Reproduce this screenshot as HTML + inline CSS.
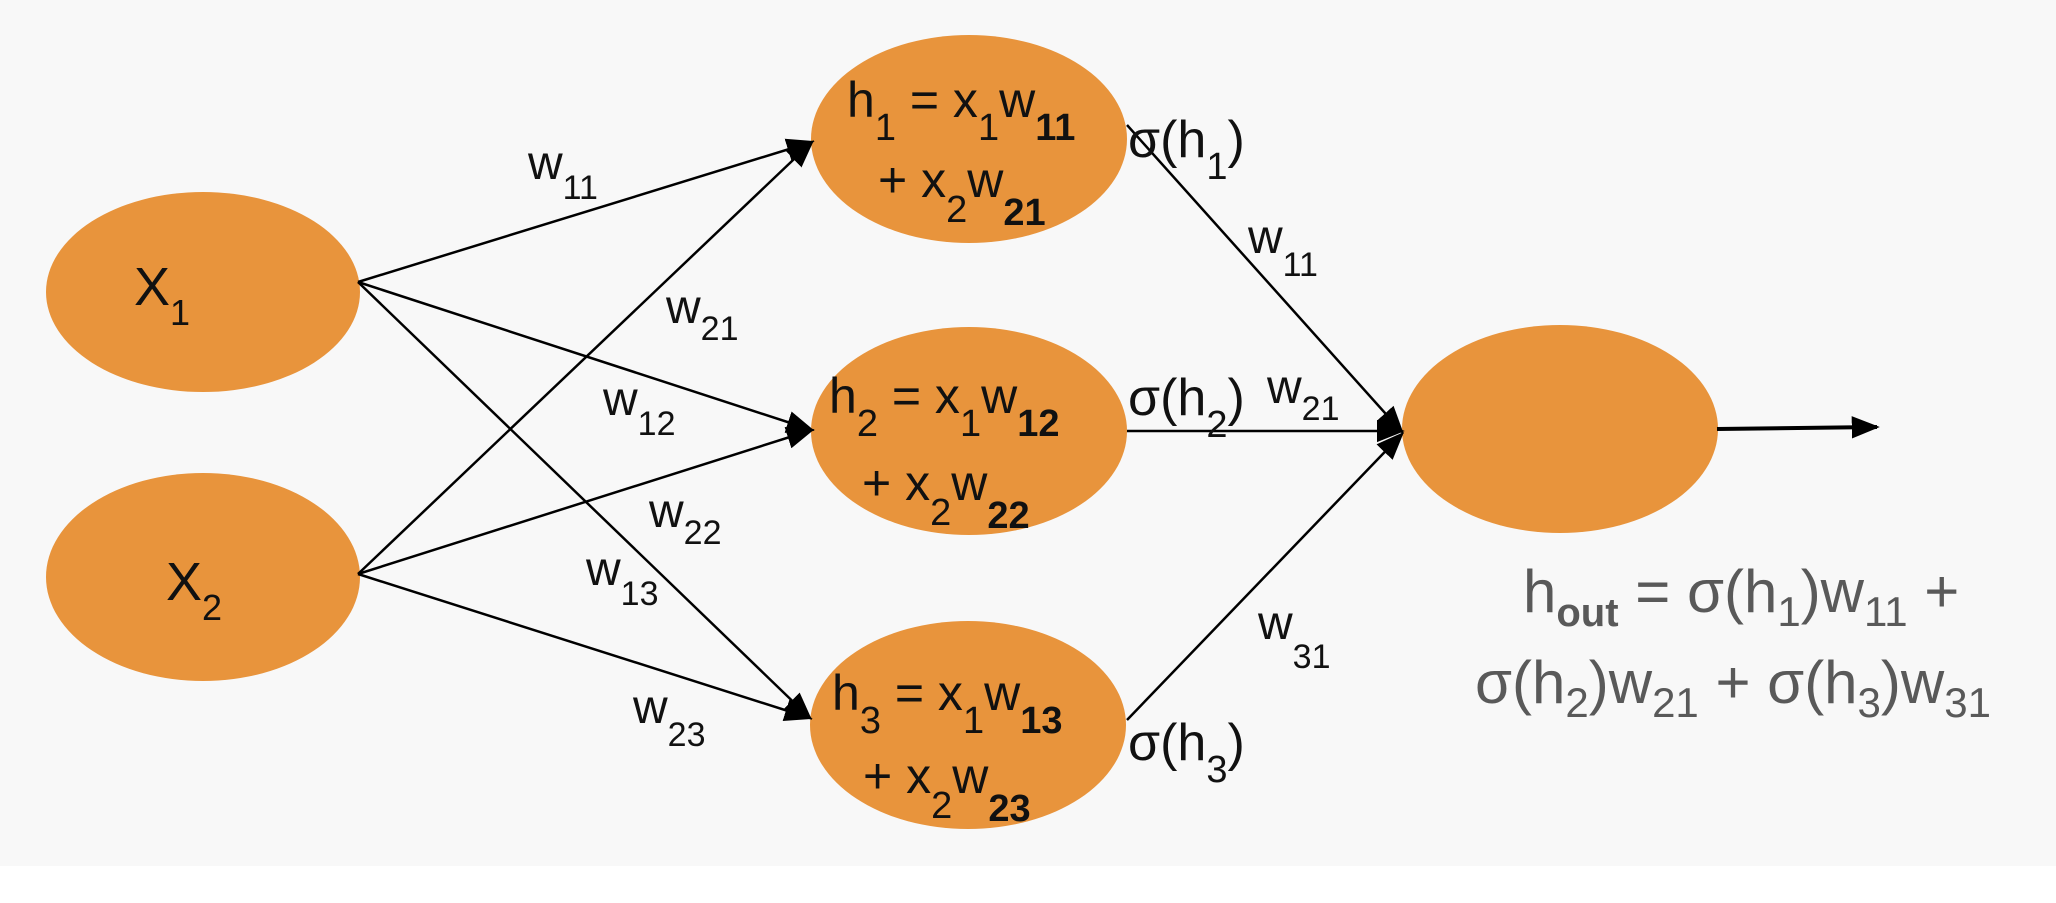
<!DOCTYPE html>
<html><head><meta charset="utf-8"><style>
html,body{margin:0;padding:0;background:#fff}
svg{display:block}
text{font-family:"Liberation Sans",sans-serif}
</style></head><body>
<svg width="2056" height="903" viewBox="0 0 2056 903" xmlns="http://www.w3.org/2000/svg">
<defs>
<marker id="a" markerWidth="10" markerHeight="8" refX="9" refY="4" orient="auto" markerUnits="userSpaceOnUse" viewBox="0 0 10 8">
</marker>
<marker id="ah" viewBox="0 0 10 10" refX="9" refY="5" markerWidth="28" markerHeight="28" markerUnits="userSpaceOnUse" orient="auto"><path d="M0,1 L10,5 L0,9 z" fill="#000"/></marker>
</defs>
<rect x="0" y="0" width="2056" height="866" fill="#f8f8f8"/>
<g fill="#e8943c">
<ellipse cx="203" cy="292" rx="157" ry="100"/>
<ellipse cx="203" cy="577" rx="157" ry="104"/>
<ellipse cx="969" cy="139" rx="158" ry="104"/>
<ellipse cx="969" cy="431" rx="158" ry="104"/>
<ellipse cx="968" cy="725" rx="158" ry="104"/>
<ellipse cx="1560" cy="429" rx="158" ry="104"/>
</g>
<g stroke="#000" stroke-width="2.5" marker-end="url(#ah)">
<line x1="358" y1="282" x2="812" y2="142"/>
<line x1="358" y1="282" x2="812" y2="430"/>
<line x1="358" y1="282" x2="810" y2="718"/>
<line x1="358" y1="574" x2="812" y2="142"/>
<line x1="358" y1="574" x2="812" y2="430"/>
<line x1="358" y1="574" x2="810" y2="718"/>
<line x1="1127" y1="125" x2="1402" y2="432"/>
<line x1="1127" y1="431" x2="1402" y2="431"/>
<line x1="1127" y1="720" x2="1402" y2="434"/>
<line x1="1717" y1="429" x2="1877" y2="427" stroke-width="4"/>
</g>
<g fill="#111" font-size="54">
<text x="134" y="305">X<tspan font-size="36" dy="20">1</tspan></text>
<text x="166" y="600">X<tspan font-size="36" dy="20">2</tspan></text>
</g>
<g fill="#111" font-size="48">
<text x="528" y="179">w<tspan font-size="34" dy="20">11</tspan></text>
<text x="666" y="323">w<tspan font-size="34" dy="17">21</tspan></text>
<text x="603" y="415">w<tspan font-size="34" dy="20">12</tspan></text>
<text x="649" y="527">w<tspan font-size="34" dy="17">22</tspan></text>
<text x="586" y="585">w<tspan font-size="34" dy="20">13</tspan></text>
<text x="633" y="723">w<tspan font-size="34" dy="23">23</tspan></text>
<text x="1248" y="253">w<tspan font-size="34" dy="23">11</tspan></text>
<text x="1258" y="639">w<tspan font-size="34" dy="29">31</tspan></text>
<text x="1267" y="403">w<tspan font-size="34" dy="17">21</tspan></text>
</g>
<g fill="#111" font-size="52">
<text x="1128" y="157">σ(h<tspan font-size="38" dy="22">1</tspan><tspan dy="-22">)</tspan></text>
<text x="1128" y="415">σ(h<tspan font-size="38" dy="22">2</tspan><tspan dy="-22">)</tspan></text>
<text x="1128" y="760">σ(h<tspan font-size="38" dy="22">3</tspan><tspan dy="-22">)</tspan></text>
</g>
<g fill="#111" font-size="50">
<text x="847" y="117">h<tspan font-size="38" dy="23">1</tspan><tspan dy="-23"> = x</tspan><tspan font-size="38" dy="23">1</tspan><tspan dy="-23">w</tspan><tspan font-size="38" font-weight="bold" dy="23">11</tspan></text>
<text x="878" y="197">+ x<tspan font-size="38" dy="25">2</tspan><tspan dy="-25">w</tspan><tspan font-size="38" font-weight="bold" dy="28">21</tspan></text>
<text x="829" y="413">h<tspan font-size="38" dy="23">2</tspan><tspan dy="-23"> = x</tspan><tspan font-size="38" dy="23">1</tspan><tspan dy="-23">w</tspan><tspan font-size="38" font-weight="bold" dy="23">12</tspan></text>
<text x="862" y="500">+ x<tspan font-size="38" dy="25">2</tspan><tspan dy="-25">w</tspan><tspan font-size="38" font-weight="bold" dy="28">22</tspan></text>
<text x="832" y="710">h<tspan font-size="38" dy="23">3</tspan><tspan dy="-23"> = x</tspan><tspan font-size="38" dy="23">1</tspan><tspan dy="-23">w</tspan><tspan font-size="38" font-weight="bold" dy="23">13</tspan></text>
<text x="863" y="793">+ x<tspan font-size="38" dy="25">2</tspan><tspan dy="-25">w</tspan><tspan font-size="38" font-weight="bold" dy="28">23</tspan></text>
</g>
<g fill="#595959" font-size="60">
<text x="1523" y="612">h<tspan font-size="40" font-weight="bold" dy="14">out</tspan><tspan dy="-14"> = σ(h</tspan><tspan font-size="42" dy="14">1</tspan><tspan dy="-14">)w</tspan><tspan font-size="42" dy="14">11</tspan><tspan dy="-14"> +</tspan></text>
<text x="1475" y="703">σ(h<tspan font-size="42" dy="14">2</tspan><tspan dy="-14">)w</tspan><tspan font-size="42" dy="14">21</tspan><tspan dy="-14"> + σ(h</tspan><tspan font-size="42" dy="14">3</tspan><tspan dy="-14">)w</tspan><tspan font-size="42" dy="14">31</tspan></text>
</g>
</svg>
</body></html>
